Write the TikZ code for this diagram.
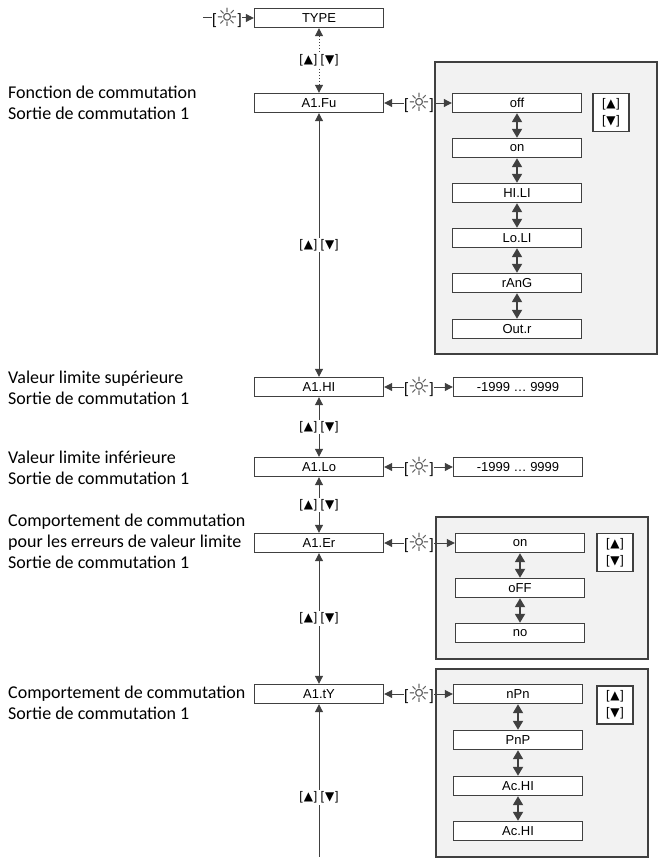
\documentclass[tikz,border=0pt]{standalone}
\usepackage{fontspec}
\setmainfont{Liberation Sans}
\newfontfamily\labfont{Carlito}
\newfontfamily\symfont{DejaVu Sans}
\usetikzlibrary{arrows.meta}
\definecolor{ln}{HTML}{404040}
\definecolor{pan}{HTML}{F2F2F2}
\definecolor{sunc}{HTML}{555555}
\newcommand{\upk}{[\kern0.8pt{\symfont\fontsize{12}{12}\selectfont ▲}\kern0.8pt]}
\newcommand{\dnk}{[\kern0.8pt{\symfont\fontsize{12}{12}\selectfont ▼}\kern0.8pt]}
\newcommand{\sunk}{[\kern-0.5pt\raisebox{-1.2pt}{\color{sunc}\symfont\fontsize{25}{25}\selectfont ☼}\kern-0.5pt]}
\begin{document}
\begin{tikzpicture}[x=1pt,y=-1pt,
  tipm/.tip={Triangle[length=8pt,width=8pt]},
  tipd/.tip={Triangle[length=9pt,width=10pt]},
  conn/.style={draw=ln,line width=1pt},
  dconn/.style={draw=ln,line width=1.8pt,{tipd}-{tipd}},
  panel/.style={draw=ln,line width=1.4pt,fill=pan},
  mbox/.style={draw=ln,line width=1.4pt,fill=white,minimum width=129pt,minimum height=19pt,inner sep=0pt,font=\fontsize{13}{14}\selectfont},
  pbox/.style={mbox},
  udbox/.style={draw=ln,line width=1.1pt,fill=white,minimum width=36pt,minimum height=38pt,inner sep=0pt,align=center,font=\fontsize{12.5}{17}\selectfont},
  udl/.style={fill=white,inner sep=1.5pt,font=\fontsize{12.5}{13}\selectfont},
  sun/.style={inner sep=0.3pt,font=\fontsize{15}{16}\selectfont},
  lab/.style={anchor=west,align=left,inner sep=0pt,font=\labfont\fontsize{18}{21}\selectfont},
]
\useasboundingbox (0,0) rectangle (658,859);
% panels
\draw[panel] (435,62) rectangle (657,354);
\draw[panel] (436,517) rectangle (648,659);
\draw[panel] (436,669) rectangle (648,857);

% main column
\node[mbox] (type) at (319,18) {TYPE};
\node[mbox] (fu) at (319,103) {A1.Fu};
\node[mbox] (hi) at (319,387) {A1.HI};
\node[mbox] (lo) at (319,467) {A1.Lo};
\node[mbox] (er) at (319,543) {A1.Er};
\node[mbox] (ty) at (319,694) {A1.tY};
\coordinate (bend) at (319,857);

% left labels
\node[lab] (lfu) at (8,102.5) {Fonction de commutation\\Sortie de commutation 1};
\node[lab] (lhi) at (8,387.5) {Valeur limite supérieure\\Sortie de commutation 1};
\node[lab] (llo) at (8,467.5) {Valeur limite inférieure\\Sortie de commutation 1};
\node[lab] (ler) at (8,541) {Comportement de commutation\\pour les erreurs de valeur limite\\Sortie de commutation 1};
\node[lab] (lty) at (8,703) {Comportement de commutation\\Sortie de commutation 1};

% vertical links
\draw[conn,dotted,{tipm}-{tipm}] (type.south) -- node[udl] (u0) {\upk\ \dnk} (fu.north);
\draw[conn,{tipm}-{tipm}] (fu.south) -- node[udl] (u1) {\upk\ \dnk} (hi.north);
\draw[conn,{tipm}-{tipm}] (hi.south) -- node[udl] (u2) {\upk\ \dnk} (lo.north);
\draw[conn,{tipm}-{tipm}] (lo.south) -- node[udl] (u3) {\upk\ \dnk} (er.north);
\draw[conn,{tipm}-{tipm}] (er.south) -- node[udl] (u4) {\upk\ \dnk} (ty.north);
\draw[conn,{tipm}-] (ty.south) -- node[udl,pos=0.61] (u5) {\upk\ \dnk} (bend);

% entry to TYPE
\coordinate (st) at (203,18);
\node[sun] (s0) at (227,18) {\sunk};
\draw[conn] (st) -- (s0.west);
\draw[conn,-{tipm}] (s0.east) -- (type.west);

% panel 1
\node[pbox] (p1a) at (517,103) {off};
\node[pbox] (p1b) at (517,148) {on};
\node[pbox] (p1c) at (517,193) {HI.LI};
\node[pbox] (p1d) at (517,238) {Lo.LI};
\node[pbox] (p1e) at (517,283) {rAnG};
\node[pbox] (p1f) at (517,329) {Out.r};
\node[udbox] (ud1) at (611,112.5) {\upk\\\dnk};
\draw[dconn] (p1a.south) -- (p1b.north);
\draw[dconn] (p1b.south) -- (p1c.north);
\draw[dconn] (p1c.south) -- (p1d.north);
\draw[dconn] (p1d.south) -- (p1e.north);
\draw[dconn] (p1e.south) -- (p1f.north);
\node[sun] (s1) at (419,103) {\sunk};
\draw[conn,-{tipm}] (s1.west) -- (fu.east);
\draw[conn,-{tipm}] (s1.east) -- (p1a.west);

% value boxes
\node[pbox] (v1) at (518,387) {-1999 … 9999};
\node[pbox] (v2) at (518,467) {-1999 … 9999};
\node[sun] (s2) at (419,387) {\sunk};
\draw[conn,-{tipm}] (s2.west) -- (hi.east);
\draw[conn,-{tipm}] (s2.east) -- (v1.west);
\node[sun] (s3) at (419,467) {\sunk};
\draw[conn,-{tipm}] (s3.west) -- (lo.east);
\draw[conn,-{tipm}] (s3.east) -- (v2.west);

% panel 2
\node[pbox] (p2a) at (520,543) {on};
\node[pbox] (p2b) at (520,588) {oFF};
\node[pbox] (p2c) at (520,633) {no};
\node[udbox] (ud2) at (615,552.5) {\upk\\\dnk};
\draw[dconn] (p2a.south) -- (p2b.north);
\draw[dconn] (p2b.south) -- (p2c.north);
\node[sun] (s4) at (419,543) {\sunk};
\draw[conn,-{tipm}] (s4.west) -- (er.east);
\draw[conn,-{tipm}] (s4.east) -- (p2a.west);

% panel 3
\node[pbox] (p3a) at (518,694) {nPn};
\node[pbox] (p3b) at (518,740) {PnP};
\node[pbox] (p3c) at (518,786) {Ac.HI};
\node[pbox] (p3d) at (518,831) {Ac.HI};
\node[udbox] (ud3) at (615,705) {\upk\\\dnk};
\draw[dconn] (p3a.south) -- (p3b.north);
\draw[dconn] (p3b.south) -- (p3c.north);
\draw[dconn] (p3c.south) -- (p3d.north);
\node[sun] (s5) at (419,694) {\sunk};
\draw[conn,-{tipm}] (s5.west) -- (ty.east);
\draw[conn,-{tipm}] (s5.east) -- (p3a.west);
\end{tikzpicture}
\end{document}
